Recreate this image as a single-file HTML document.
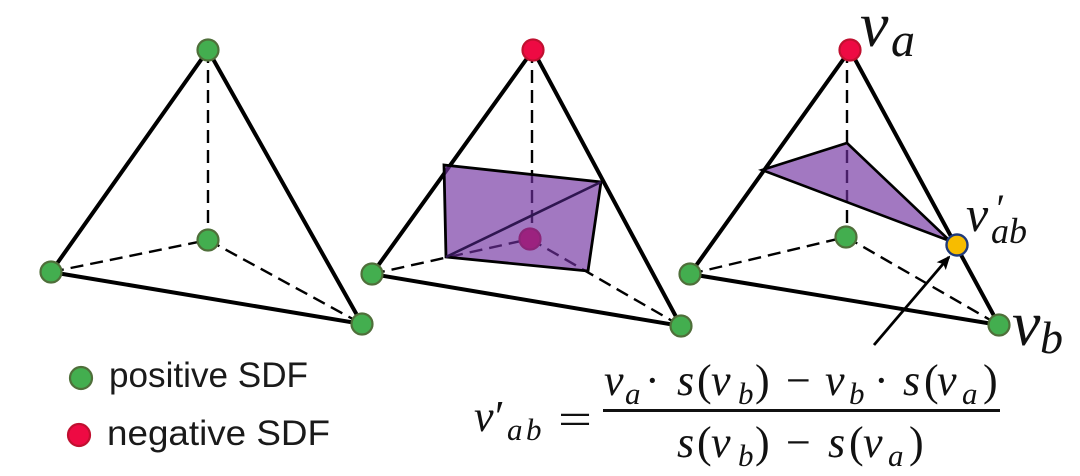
<!DOCTYPE html>
<html><head><meta charset="utf-8"><style>
html,body{margin:0;padding:0;background:#fff}
svg{display:block}
.d{stroke:#000;stroke-width:2.4;stroke-dasharray:13 7;fill:none}
.s{stroke:#000;stroke-width:4;fill:none}
.g{fill:#43ae4f;stroke:#4f6f3a;stroke-width:2.2}
.r{fill:#ee0a43;stroke:#c01030;stroke-width:2.2}
text{font-family:"Liberation Serif",serif;fill:#111}
.i{font-style:italic}
.l{font-family:"Liberation Sans",sans-serif;font-size:35px;fill:#1a1a1a}
.n{font-size:44px}.u{font-size:31px}
</style></head><body>
<svg width="1080" height="476" viewBox="0 0 1080 476" xmlns="http://www.w3.org/2000/svg">
<defs><marker id="a" markerWidth="14" markerHeight="12" refX="12" refY="6" orient="auto" markerUnits="userSpaceOnUse"><path d="M0 0L14 6L0 12L3 6Z" fill="#000"/></marker></defs>
<!-- 1 -->
<path class="d" d="M208 50V240M51 272L208 240M208 240L362 324"/>
<path class="s" d="M208 50L51 272L362 324Z"/>
<circle class="g" cx="208" cy="50" r="10.5"/><circle class="g" cx="208" cy="240" r="10.5"/><circle class="g" cx="51" cy="272" r="10.5"/><circle class="g" cx="362" cy="324" r="10.5"/>
<!-- 2 -->
<path class="d" d="M532 50V239M372 274L530 239M530 239L681 326"/>
<path class="s" d="M533 50L372 274L681 326Z"/>
<circle class="g" cx="372" cy="274" r="10.5"/><circle class="g" cx="681" cy="326" r="10.5"/>
<circle class="r" cx="533" cy="50" r="10.5"/><circle class="r" cx="530" cy="239" r="10.5"/>
<polygon points="444,165 601,182 588,271 446,257" fill="#7030a0" fill-opacity=".65"/>
<polygon points="444,165 601,182 588,271 446,257" fill="none" stroke="#000" stroke-width="2.8"/>
<path d="M446 257L601 182" stroke="#2f1650" stroke-width="2.6" fill="none"/>
<!-- 3 -->
<path class="d" d="M847 50V237M690 274L846 237M846 237L999 325"/>
<path class="s" d="M850 50L690 274L999 325Z"/>
<circle class="g" cx="690" cy="274" r="10.5"/><circle class="g" cx="846" cy="237" r="10.5"/><circle class="g" cx="999" cy="325" r="10.5"/>
<circle class="r" cx="850" cy="50" r="10.5"/>
<polygon points="762,170 847,143 950,241" fill="#7030a0" fill-opacity=".65" stroke="none"/>
<polygon points="762,170 847,143 950,241" fill="none" stroke="#000" stroke-width="2.6"/>
<path d="M874 345L949 257" stroke="#000" stroke-width="2.8" fill="none" marker-end="url(#a)"/>
<circle cx="957" cy="245" r="10.5" fill="#f7bc00" stroke="#1f3a7a" stroke-width="2.4"/>
<!-- vertex labels -->
<text class="i" x="860" y="46" font-size="64">v</text>
<text class="i" x="891" y="56" font-size="48">a</text>
<text class="i" x="1012" y="345" font-size="64">v</text>
<text class="i" x="1040" y="353" font-size="46">b</text>
<text class="i" x="966" y="231" font-size="50">v</text>
<text class="i" x="994" y="222" font-size="40">′</text>
<text class="i" x="991" y="243" font-size="36">ab</text>
<!-- legend -->
<circle class="g" cx="81" cy="378" r="11"/>
<circle class="r" cx="79" cy="435" r="11"/>
<text class="l" x="109" y="387" textLength="199" lengthAdjust="spacingAndGlyphs">positive SDF</text>
<text class="l" x="107" y="445" textLength="223" lengthAdjust="spacingAndGlyphs">negative SDF</text>
<!-- equation -->
<text class="i n" x="474" y="431">v</text><text class="n" x="495" y="431">′</text>
<text class="i u" x="507" y="440">a</text><text class="i u" x="526" y="440">b</text>
<text class="n" x="558" y="434" textLength="34" lengthAdjust="spacingAndGlyphs">=</text>
<rect x="603" y="409" width="397" height="3" fill="#111"/>
<text class="i n" x="604" y="395">v</text><text class="i u" x="625" y="404">a</text>
<text class="n" x="645" y="395">·</text>
<text class="i n" x="677" y="395">s</text><text class="n" x="697" y="395">(</text>
<text class="i n" x="711" y="395">v</text><text class="i u" x="738" y="404">b</text><text class="n" x="755" y="395">)</text>
<text class="n" x="786" y="395">−</text>
<text class="i n" x="825" y="395">v</text><text class="i u" x="849" y="404">b</text>
<text class="n" x="874" y="395">·</text>
<text class="i n" x="903" y="395">s</text><text class="n" x="924" y="395">(</text>
<text class="i n" x="937" y="395">v</text><text class="i u" x="962" y="404">a</text><text class="n" x="983" y="395">)</text>
<text class="i n" x="677" y="457">s</text><text class="n" x="697" y="457">(</text>
<text class="i n" x="711" y="457">v</text><text class="i u" x="738" y="466">b</text><text class="n" x="755" y="457">)</text>
<text class="n" x="786" y="457">−</text>
<text class="i n" x="828" y="457">s</text><text class="n" x="849" y="457">(</text>
<text class="i n" x="863" y="457">v</text><text class="i u" x="888" y="466">a</text><text class="n" x="909" y="457">)</text>
</svg>
</body></html>
